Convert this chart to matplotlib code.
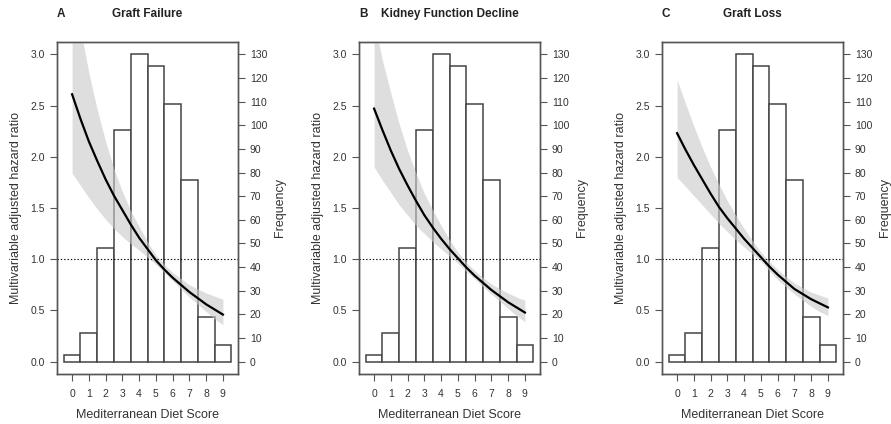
import matplotlib

matplotlib.use("Agg")
from matplotlib import pyplot as plt

plt.rcParams["font.family"] = ["Liberation Sans", "DejaVu Sans"]

scores = [0, 1, 2, 3, 4, 5, 6, 7, 8, 9]
frequency = [3, 12, 48, 98, 130, 125, 109, 77, 19, 7]

panel_letters = ["A", "B", "C"]
panel_titles = ["Graft Failure", "Kidney Function Decline", "Graft Loss"]

score_grid = [0, 0.5, 1, 1.5, 2, 2.5, 3, 3.5, 4, 4.5,
              5, 5.5, 6, 6.5, 7, 7.5, 8, 8.5, 9]

hr_failure = [2.61, 2.37, 2.15, 1.96, 1.78, 1.62, 1.48, 1.34, 1.21, 1.10,
              0.99, 0.90, 0.82, 0.75, 0.68, 0.62, 0.56, 0.51, 0.46]
lo_failure = [1.84, 1.72, 1.60, 1.49, 1.39, 1.30, 1.22, 1.15, 1.09, 1.02,
              0.95, 0.87, 0.79, 0.71, 0.63, 0.56, 0.49, 0.42, 0.36]
hi_failure = [3.85, 3.25, 2.82, 2.46, 2.15, 1.88, 1.66, 1.47, 1.32, 1.17,
              1.04, 0.95, 0.87, 0.81, 0.75, 0.71, 0.67, 0.64, 0.61]

hr_decline = [2.47, 2.26, 2.06, 1.88, 1.72, 1.57, 1.43, 1.31, 1.20, 1.10,
              1.01, 0.92, 0.84, 0.77, 0.70, 0.64, 0.58, 0.53, 0.48]
lo_decline = [1.90, 1.77, 1.65, 1.53, 1.43, 1.33, 1.25, 1.17, 1.10, 1.03,
              0.96, 0.88, 0.81, 0.73, 0.66, 0.59, 0.52, 0.45, 0.39]
hi_decline = [3.32, 2.94, 2.62, 2.32, 2.06, 1.84, 1.64, 1.48, 1.33, 1.19,
              1.07, 0.97, 0.89, 0.82, 0.76, 0.71, 0.67, 0.63, 0.60]

hr_loss = [2.23, 2.07, 1.92, 1.78, 1.64, 1.51, 1.40, 1.30, 1.20, 1.11,
           1.02, 0.93, 0.85, 0.78, 0.71, 0.66, 0.61, 0.57, 0.53]
lo_loss = [1.80, 1.71, 1.62, 1.53, 1.44, 1.35, 1.27, 1.19, 1.12, 1.05,
           0.98, 0.89, 0.80, 0.73, 0.66, 0.60, 0.54, 0.49, 0.45]
hi_loss = [2.75, 2.52, 2.30, 2.09, 1.90, 1.73, 1.57, 1.43, 1.30, 1.18,
           1.07, 0.98, 0.90, 0.83, 0.77, 0.72, 0.68, 0.65, 0.62]

hr_ticks = [0.0, 0.5, 1.0, 1.5, 2.0, 2.5, 3.0]
freq_ticks = list(range(0, 140, 10))

curves = [
    (hr_failure, lo_failure, hi_failure),
    (hr_decline, lo_decline, hi_decline),
    (hr_loss, lo_loss, hi_loss),
]
lefts = [57, 359, 662]

FRAME = "#555555"
TEXT = "#333333"
W, H = 891, 424

fig = plt.figure(figsize=(W / 100, H / 100), dpi=100)
ylim = (-0.12, 3.12)
scale = 130 / 3.0

for i, (hr, lo, hi) in enumerate(curves):
    ax = fig.add_axes([lefts[i] / W, 50 / H, 181 / W, 332 / H])
    ax2 = ax.twinx()
    ax.set_zorder(ax2.get_zorder() + 1)
    ax.patch.set_visible(False)

    ax2.bar(scores, frequency, width=1.0, facecolor="white",
            edgecolor="#444444", linewidth=1.1)
    ax2.set_ylim(ylim[0] * scale, ylim[1] * scale)
    ax2.set_yticks(freq_ticks)

    ax.fill_between(score_grid, lo, hi, color="#c8c8c8", alpha=0.6, linewidth=0)
    ax.plot(score_grid, hr, color="black", linewidth=1.6)
    ax.axhline(1.0, color="black", linestyle=(0, (1.2, 1.8)), linewidth=0.8)
    ax.set_xlim(-0.9, 9.9)
    ax.set_ylim(*ylim)
    ax.set_yticks(hr_ticks)
    ax.set_yticklabels(["%.1f" % t for t in hr_ticks])
    ax.set_xticks(scores)

    for a in (ax, ax2):
        for s in a.spines.values():
            s.set_color(FRAME)
            s.set_linewidth(1.0)
        a.tick_params(colors=FRAME, labelcolor=TEXT, labelsize=7.5,
                      length=5, width=0.8)
    ax.tick_params(axis="x", pad=6)

    ax.set_xlabel("Mediterranean Diet Score", fontsize=9, color=TEXT, labelpad=7)
    ax.set_ylabel("Multivariable adjusted hazard ratio", fontsize=9, color=TEXT, labelpad=6)
    ax2.set_ylabel("Frequency", fontsize=9, color=TEXT, labelpad=5)

    ax.text(0.0, 1.085, panel_letters[i], transform=ax.transAxes, fontsize=8.5,
            fontweight="bold", ha="left", va="center", color="#222222")
    ax.text(0.5, 1.085, panel_titles[i], transform=ax.transAxes, fontsize=8.5,
            fontweight="bold", ha="center", va="center", color="#222222")

fig.savefig("out.png", dpi=100)
